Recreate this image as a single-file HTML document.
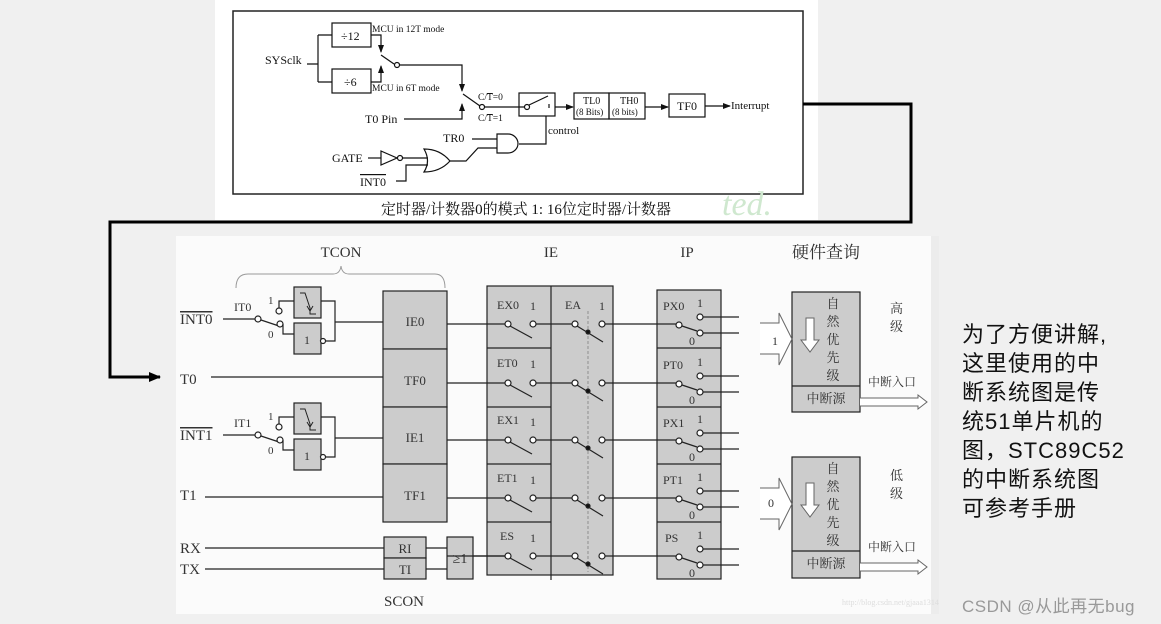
<!DOCTYPE html>
<html><head><meta charset="utf-8"><style>
html,body{margin:0;padding:0;background:#f0f0f0;}
svg{display:block;}
</style></head><body>
<svg width="1161" height="624" viewBox="0 0 1161 624" xmlns="http://www.w3.org/2000/svg">
<defs>
<marker id="ah" markerWidth="8" markerHeight="8" refX="7" refY="4" orient="auto" markerUnits="userSpaceOnUse"><path d="M0,1 L8,4 L0,7 z" fill="#111"/></marker>
<marker id="ah2" markerWidth="12" markerHeight="12" refX="11" refY="6" orient="auto" markerUnits="userSpaceOnUse"><path d="M0,1 L12,6 L0,11 z" fill="#000"/></marker>
</defs>
<!-- top image -->
<rect x="215" y="0" width="603" height="220" fill="#fff"/>
<rect x="233" y="11" width="570" height="183" fill="none" stroke="#222" stroke-width="1.5"/>
<g stroke="#111" stroke-width="1.2" fill="none">
<rect x="332" y="23" width="39" height="24"/>
<rect x="332" y="69" width="39" height="24"/>
<path d="M307,64 H318 M318,35 V82 M318,35 H332 M318,82 H332"/>
<path d="M371,35 H381 V52" marker-end="url(#ah)"/>
<path d="M371,82 H381 V66" marker-end="url(#ah)"/>
<path d="M381,55 L394,64"/>
<circle cx="397" cy="65" r="2.5" fill="#fff"/>
<path d="M400,65 H462 V91" marker-end="url(#ah)"/>
<path d="M463,94 L480,106"/>
<circle cx="482" cy="107" r="2.5" fill="#fff"/>
<path d="M404,119 H462 V104" marker-end="url(#ah)"/>
<path d="M485,107 H524"/>
<rect x="519" y="93" width="36" height="23"/>
<circle cx="527" cy="107" r="2.5" fill="#fff"/>
<path d="M529,105 L548,96 M549,104 V108"/>
<path d="M555,107 H573" marker-end="url(#ah)"/>
<rect x="574" y="93" width="35" height="26"/>
<rect x="609" y="93" width="36" height="26"/>
<path d="M645,107 H668" marker-end="url(#ah)"/>
<rect x="669" y="94" width="36" height="23"/>
<path d="M705,106 H730" marker-end="url(#ah)"/>
<path d="M546,116 V144 H519"/>
<path d="M497,134 H508 A10,9.5 0 0 1 508,153 H497 Z"/>
<path d="M472,139 H497"/>
<path d="M450,161 H466 L478,148 H497"/>
<path d="M424,149 Q440,149 450,161 Q440,172 424,172 Q431,161 424,149 Z"/>
<path d="M368,158 H381"/>
<path d="M381,151 L397,158 L381,165 Z"/>
<circle cx="400" cy="158" r="2.5" fill="#fff"/>
<path d="M402,158 H428"/>
<path d="M396,181 H406 V165 H428"/>
</g>
<g font-family="Liberation Serif, serif" fill="#111" stroke="none">
<text x="265" y="64" font-size="12">SYSclk</text>
<text x="372" y="32" font-size="9.5">MCU in 12T mode</text>
<text x="372" y="91" font-size="9.5">MCU in 6T mode</text>
<text x="341" y="40" font-size="12">÷12</text>
<text x="344" y="86" font-size="12">÷6</text>
<text x="478" y="100" font-size="9.5">C/<tspan text-decoration="overline">T</tspan>=0</text>
<text x="478" y="121" font-size="9.5">C/<tspan text-decoration="overline">T</tspan>=1</text>
<text x="365" y="123" font-size="12">T0 Pin</text>
<text x="583" y="104" font-size="10">TL0</text>
<text x="576" y="115" font-size="9">(8 Bits)</text>
<text x="620" y="104" font-size="10">TH0</text>
<text x="612" y="115" font-size="9">(8 bits)</text>
<text x="677" y="110" font-size="12">TF0</text>
<text x="731" y="109" font-size="11">Interrupt</text>
<text x="548" y="134" font-size="11">control</text>
<text x="443" y="142" font-size="12">TR0</text>
<text x="332" y="162" font-size="12">GATE</text>
<text x="360" y="186" font-size="12" text-decoration="overline">INT0</text>
<text x="526" y="214" font-size="15" text-anchor="middle" font-family="Liberation Serif, Noto Serif CJK SC, serif">定时器/计数器0的模式 1: 16位定时器/计数器</text>
<text x="722" y="215" font-size="34" fill="#cfe8cf" font-style="italic">ted.</text>
</g>
<!-- thick connector -->
<path d="M803,104 H911 V222 H110 V377 H160" fill="none" stroke="#000" stroke-width="3" marker-end="url(#ah2)"/>

<!-- bottom image -->
<rect x="176" y="236" width="755" height="378" fill="#fbfbfb"/>
<rect x="931" y="236" width="8" height="378" fill="#ececec"/>
<path d="M236,288 Q236,274 248,274 H333 Q340,274 341,266 Q342,274 349,274 H435 Q445,274 445,288" fill="none" stroke="#999" stroke-width="1"/>
<g stroke="#222" stroke-width="1.2" fill="#ccc">
<rect x="383" y="291" width="64" height="58"/><rect x="383" y="349" width="64" height="58"/>
<rect x="383" y="407" width="64" height="57"/><rect x="383" y="464" width="64" height="58"/>
<rect x="384" y="537" width="42" height="21"/><rect x="384" y="558" width="42" height="21"/>
<rect x="447" y="537" width="26" height="42"/>
<rect x="487" y="286" width="126" height="289"/>
<rect x="657" y="290" width="64" height="289"/>
<rect x="792" y="292" width="68" height="120"/>
<rect x="792" y="457" width="68" height="121"/>
</g>
<g stroke="#222" stroke-width="1.2" fill="none">
<path d="M487,348 H551 M487,407 H551 M487,464 H551 M487,522 H551 M551,286 V580"/>
<path d="M657,348 H721 M657,407 H721 M657,464 H721 M657,522 H721"/>
<path d="M792,386 H860 M792,551 H860"/>
<path d="M588,311 V572" stroke="#999" stroke-dasharray="3,2"/>
<path d="M211,377 H383 M205,497 H383 M205,548 H384 M205,569 H384 M426,548 H447 M426,569 H447 M473,556 H505"/>
</g>
<!-- edge trigger groups -->
<g id="trg" stroke="#222" stroke-width="1.2" fill="none">
<path d="M223,319 H255"/>
<circle cx="258" cy="319" r="3" fill="#fff"/>
<path d="M261,320 L279,326"/>
<circle cx="279" cy="311" r="3" fill="#fff"/><circle cx="280" cy="324" r="3" fill="#fff"/>
<path d="M279,308 V301 H294 M283,324 V334 H294 M283,324 V330"/>
<rect x="294" y="287" width="27" height="31" fill="#ccc"/>
<rect x="294" y="323" width="27" height="31" fill="#ccc"/>
<path d="M300,293 H305 L310,308 V314 H316 M307,306 L310,311 L313,306" stroke-width="1"/>
<circle cx="323" cy="341" r="2.5" fill="#fff"/>
<path d="M321,301 H335 V341 H326 M335,322 H383"/>
<text x="304" y="344" font-family="Liberation Serif, serif" font-size="12" fill="#333" stroke="none">1</text>
</g>
<use href="#trg" transform="translate(0,116)"/>
<g id="row" stroke="#222" stroke-width="1.2" fill="none">
<path d="M447,324 H505 M536,324 H572 M605,324 H679 M703,317 H739 M703,333 H739"/>
<circle cx="508" cy="324" r="3" fill="#fff"/><circle cx="533" cy="324" r="3" fill="#fff"/>
<path d="M510,326 L532,338"/>
<circle cx="575" cy="324" r="3" fill="#fff"/><circle cx="602" cy="324" r="3" fill="#fff"/>
<path d="M577,326 L603,342"/><circle cx="588" cy="332" r="2" fill="#111"/>
<circle cx="679" cy="325" r="3" fill="#fff"/><circle cx="700" cy="317" r="3" fill="#fff"/><circle cx="700" cy="333" r="3" fill="#fff"/>
<path d="M682,326 L697,331"/>
<text x="697" y="307" font-family="Liberation Serif, serif" font-size="12" fill="#333" stroke="none">1</text>
<text x="689" y="345" font-family="Liberation Serif, serif" font-size="12" fill="#333" stroke="none">0</text>
</g>
<use href="#row" transform="translate(0,59)"/>
<use href="#row" transform="translate(0,116)"/>
<use href="#row" transform="translate(0,174)"/>
<use href="#row" transform="translate(0,232)"/>
<!-- priority blocks -->
<g id="blk">
<g stroke="#666" stroke-width="1" fill="#fff">
<path d="M760,323 H779 V313 L792,339 L779,365 V354 H760"/>
<path d="M806,318 H814 V340 H819 L810,352 L801,340 H806 Z"/>
<path d="M860,398 H918 V395 L927,402 L918,409 V406 H860"/>
</g>
<g font-family="Liberation Serif, Noto Serif CJK SC, serif" font-size="13" fill="#333" text-anchor="middle">
<text x="833" y="308">自</text><text x="833" y="326">然</text><text x="833" y="344">优</text><text x="833" y="362">先</text><text x="833" y="380">级</text>
<text x="826" y="403">中断源</text>
</g>
</g>
<use href="#blk" transform="translate(0,165)"/>
<g font-family="Liberation Serif, Noto Serif CJK SC, serif" fill="#333" font-size="15">
<text x="341" y="257" text-anchor="middle">TCON</text>
<text x="551" y="257" text-anchor="middle">IE</text>
<text x="687" y="257" text-anchor="middle">IP</text>
<text x="826" y="258" text-anchor="middle" font-size="17">硬件查询</text>
<text x="180" y="324" text-decoration="overline">INT0</text>
<text x="180" y="384">T0</text>
<text x="180" y="440" text-decoration="overline">INT1</text>
<text x="180" y="500">T1</text>
<text x="180" y="553">RX</text>
<text x="180" y="574">TX</text>
<text x="404" y="606" text-anchor="middle">SCON</text>
<text x="234" y="311" font-size="12">IT0</text>
<text x="234" y="427" font-size="12">IT1</text>
<text x="268" y="304" font-size="11">1</text><text x="268" y="338" font-size="11">0</text>
<text x="268" y="420" font-size="11">1</text><text x="268" y="454" font-size="11">0</text>
<text x="415" y="326" font-size="13" text-anchor="middle">IE0</text>
<text x="415" y="385" font-size="13" text-anchor="middle">TF0</text>
<text x="415" y="442" font-size="13" text-anchor="middle">IE1</text>
<text x="415" y="500" font-size="13" text-anchor="middle">TF1</text>
<text x="405" y="553" font-size="13" text-anchor="middle">RI</text>
<text x="405" y="574" font-size="13" text-anchor="middle">TI</text>
<text x="460" y="563" font-size="14" text-anchor="middle">≥1</text>
<text x="565" y="309" font-size="12">EA</text><text x="599" y="310" font-size="12">1</text>
<text x="890" y="313" font-size="13">高</text><text x="890" y="331" font-size="13">级</text>
<text x="890" y="480" font-size="13">低</text><text x="890" y="498" font-size="13">级</text>
<text x="868" y="386" font-size="12">中断入口</text>
<text x="868" y="551" font-size="12">中断入口</text>
<text x="772" y="345" font-size="12">1</text>
<text x="768" y="507" font-size="12">0</text>
<text x="842" y="605" font-size="8" fill="#ddd">http://blog.csdn.net/gjaaa1314</text>
</g>
<g font-family="Liberation Serif, serif" font-size="12" fill="#333">
<text x="497" y="309">EX0</text><text x="530" y="310">1</text>
<text x="497" y="367">ET0</text><text x="530" y="368">1</text>
<text x="497" y="424">EX1</text><text x="530" y="426">1</text>
<text x="497" y="482">ET1</text><text x="530" y="484">1</text>
<text x="500" y="540">ES</text><text x="530" y="542">1</text>
<text x="663" y="310">PX0</text><text x="663" y="369">PT0</text><text x="663" y="427">PX1</text><text x="663" y="484">PT1</text><text x="665" y="542">PS</text>
</g>
<!-- right text -->
<g font-family="Liberation Sans, Noto Sans CJK SC, sans-serif" font-size="22" fill="#111" letter-spacing="1">
<text x="962" y="342">为了方便讲解,</text>
<text x="962" y="371">这里使用的中</text>
<text x="962" y="400">断系统图是传</text>
<text x="962" y="429">统51单片机的</text>
<text x="962" y="458">图，STC89C52</text>
<text x="962" y="487">的中断系统图</text>
<text x="962" y="516">可参考手册</text>
</g>
<text x="962" y="612" font-family="Liberation Sans, Noto Sans CJK SC, sans-serif" font-size="17" fill="#999" letter-spacing="0.5">CSDN @从此再无bug</text>
</svg>
</body></html>
